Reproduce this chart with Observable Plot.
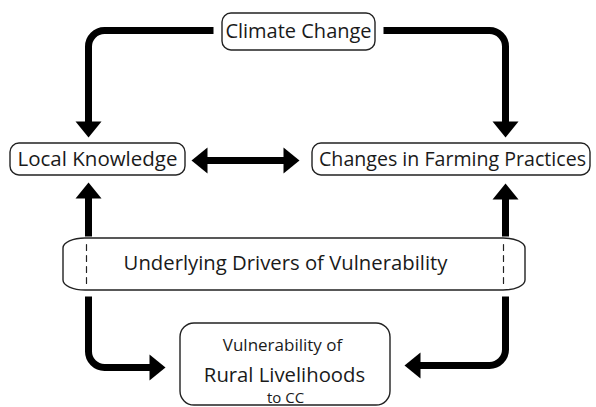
<!DOCTYPE html>
<html><head><meta charset="utf-8">
<script src="https://cdn.jsdelivr.net/npm/d3@7"></script>
<script src="https://cdn.jsdelivr.net/npm/@observablehq/plot@0.6"></script>
<style>body{margin:0;background:#fff}</style>
</head><body><div id="chart"></div>
<script>
// Boxes: small label boxes
const smallBoxNames = ["Climate Change","Local Knowledge","Changes in Farming Practices"];
const smallBoxLeft = [222,10,312];
const smallBoxRight = [375,185,590];
const smallBoxTop = [13,143,143];
const smallBoxBottom = [50,175,175];
// Large boxes
const driversBox = {left:63, right:525, top:238, bottom:290};
const ruralBox = {left:180, right:390, top:323, bottom:405};
// Labels
const labelText = ["Climate Change","Local Knowledge","Changes in Farming Practices","Underlying Drivers of Vulnerability","Vulnerability of","Rural Livelihoods","to CC"];
const labelX = [298,97,452,285,282,284,285];
const labelY = [31,159,159,263,345,374.5,398];
const labelSize = [20,20.5,19.6,20.3,17,20.3,15];
// Arrow paths (waypoints, last point = arrow tip)
const arrowPaths = [
  [[213,30],[88,30],[88,137]],
  [[383,30],[505,30],[505,137]],
  [[88,236],[88,182]],
  [[505,236],[505,183]],
  [[88,296],[88,367],[165,367]],
  [[505,296],[505,365],[404,365]],
  [[252,160],[191,160]],
  [[238,160],[299,160]]
];
// Dashed lines inside drivers box
const dashX = [86,503];
const dashTop = 244, dashBottom = 287;

const headLen = 16, headHalf = 13;
const arrowHead = {draw(ctx){ctx.moveTo(0,0);ctx.lineTo(headHalf,headLen);ctx.lineTo(-headHalf,headLen);ctx.closePath();}};

function roundedCurve(radius){
  return function(context){
    let pts;
    return {
      areaStart(){}, areaEnd(){},
      lineStart(){pts=[];},
      point(x,y){pts.push([x,y]);},
      lineEnd(){
        if(!pts.length) return;
        context.moveTo(pts[0][0],pts[0][1]);
        for(let i=1;i<pts.length-1;i++) context.arcTo(pts[i][0],pts[i][1],pts[i+1][0],pts[i+1][1],radius);
        const l=pts[pts.length-1]; context.lineTo(l[0],l[1]);
      }
    };
  };
}

const lineRows = [], tips = [];
arrowPaths.forEach((p,id)=>{
  const n=p.length, a=p[n-2], b=p[n-1];
  const dx=b[0]-a[0], dy=b[1]-a[1], L=Math.hypot(dx,dy);
  const ux=dx/L, uy=dy/L;
  p.forEach((pt,i)=>{
    if(i<n-1) lineRows.push({x:pt[0],y:pt[1],id});
    else lineRows.push({x:pt[0]-ux*(headLen-2),y:pt[1]-uy*(headLen-2),id});
  });
  const rot = Math.atan2(ux,-uy)*180/Math.PI;
  tips.push({x:b[0],y:b[1],rot});
});

const smallBoxes = smallBoxNames.map((n,i)=>({n,x1:smallBoxLeft[i],x2:smallBoxRight[i],y1:smallBoxTop[i],y2:smallBoxBottom[i]}));
const labels = labelText.map((t,i)=>({t,x:labelX[i],y:labelY[i],s:labelSize[i]}));
const dashes = dashX.flatMap((x,i)=>[{x,y:dashTop,id:i},{x,y:dashBottom,id:i}]);

const font = "'Open Sans', sans-serif";
const chart = Plot.plot({
  width:596, height:407, margin:0,
  x:{domain:[0,596], range:[0,596], axis:null},
  y:{domain:[0,407], range:[0,407], axis:null},
  style:{fontFamily:font, background:"#fff"},
  marks:[
    Plot.line(lineRows,{x:"x",y:"y",z:"id",stroke:"#000",strokeWidth:7,strokeLinecap:"butt",curve:roundedCurve(16)}),
    Plot.dot(tips,{x:"x",y:"y",rotate:"rot",symbol:arrowHead,fill:"#000",stroke:null,r:10}),
    Plot.rect(smallBoxes,{x1:"x1",x2:"x2",y1:"y1",y2:"y2",rx:9,fill:"#fff",stroke:"#222",strokeWidth:1.4}),
    Plot.rect([driversBox],{x1:"left",x2:"right",y1:"top",y2:"bottom",rx:22,ry:10,fill:"#fff",stroke:"#222",strokeWidth:1.4}),
    Plot.rect([ruralBox],{x1:"left",x2:"right",y1:"top",y2:"bottom",rx:14,fill:"#fff",stroke:"#222",strokeWidth:1.4}),
    Plot.line(dashes,{x:"x",y:"y",z:"id",stroke:"#222",strokeWidth:1.2,strokeDasharray:"6,5"}),
    Plot.text(labels,{x:"x",y:"y",text:"t",fontSize:d=>d.s,fill:"#1a1a1a",fontFamily:font,textAnchor:"middle",lineAnchor:"middle"})
  ]
});
document.getElementById("chart").appendChild(chart);
</script>
</body></html>
